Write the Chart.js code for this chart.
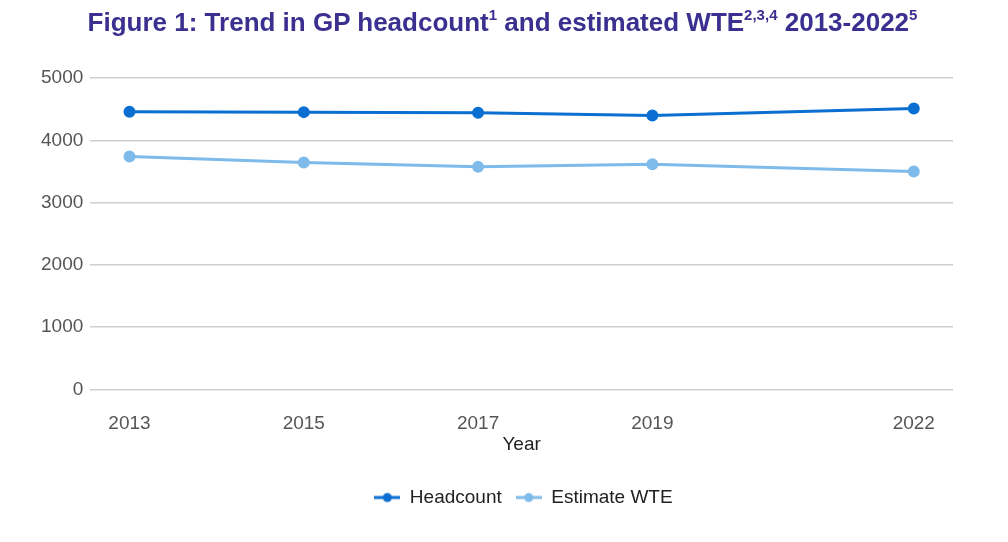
<!DOCTYPE html>
<html><head><meta charset="utf-8">
<script src="https://cdn.jsdelivr.net/npm/chart.js@4"></script>
<style>
html,body{margin:0;padding:0;background:#fff;}
#wrap{position:relative;width:1008px;height:542px;}
#title{position:absolute;left:0;top:7px;width:1005px;text-align:center;font:bold 26px/30px "Liberation Sans",Arial,sans-serif;color:#3b2f8f;margin:0;white-space:nowrap;}
#title sup{font-size:15px;line-height:0;vertical-align:top;position:relative;top:8px;}
canvas{position:absolute;left:0;top:0;}
</style></head>
<body><div id="wrap">
<canvas id="c" width="1008" height="542"></canvas>
<h1 id="title">Figure 1: Trend in GP headcount<sup>1</sup> and estimated WTE<sup>2,3,4</sup> 2013-2022<sup>5</sup></h1>
</div>
<script>
const years = [2013, 2015, 2017, 2019, 2022];
const headcount = [4457, 4452, 4441, 4399, 4511];
const estimateWTE = [3738, 3642, 3573, 3617, 3498];
const yTicks = [0, 1000, 2000, 3000, 4000, 5000];
const seriesNames = ['Headcount', 'Estimate WTE'];
const colors = ['#0a6fd0', '#7fbbea'];

function marker(color){
  const c = document.createElement('canvas');
  c.width = 26; c.height = 12;
  const x = c.getContext('2d');
  x.strokeStyle = color; x.lineWidth = 3;
  x.beginPath(); x.moveTo(0,6); x.lineTo(26,6); x.stroke();
  x.fillStyle = color; x.beginPath(); x.arc(13,6,4.5,0,Math.PI*2); x.fill();
  return c;
}
const shiftLegend = {
  id: 'shiftLegend',
  afterLayout(chart){
    if (chart.legend){ chart.legend.left += 30; chart.legend.right += 30; }
  }
};
const font = "'Liberation Sans', Arial, sans-serif";
new Chart(document.getElementById('c'), {
  type: 'line',
  plugins: [shiftLegend],
  data: {
    datasets: [
      {label: seriesNames[0], data: years.map((y,i)=>({x:y,y:headcount[i]})), borderColor: colors[0], backgroundColor: colors[0], borderWidth: 3, pointRadius: 4.5, pointHoverRadius: 4.5},
      {label: seriesNames[1], data: years.map((y,i)=>({x:y,y:estimateWTE[i]})), borderColor: colors[1], backgroundColor: colors[1], borderWidth: 3, pointRadius: 4.5, pointHoverRadius: 4.5}
    ]
  },
  options: {
    responsive: false, animation: false,
    layout: {padding: {top: 78, right: 55, left: 34, bottom: 25}},
    plugins: {
      title: {display: false},
      tooltip: {enabled: false},
      legend: {
        position: 'bottom',
        labels: {
          usePointStyle: true, pointStyleWidth: 26, boxHeight: 12, padding: 14,
          color: '#222', font: {family: font, size: 19},
          generateLabels(chart){
            return chart.data.datasets.map((d,i)=>({text: d.label, pointStyle: marker(colors[i]), fillStyle: colors[i], strokeStyle: colors[i], lineWidth: 0, datasetIndex: i, hidden: false, fontColor: '#222'}));
          }
        }
      }
    },
    scales: {
      x: {
        type: 'linear', min: 2012.55, max: 2022.45,
        afterBuildTicks(s){ s.ticks = years.map(v=>({value:v})); },
        grid: {display: false},
        border: {display: false},
        ticks: {color: '#555', font: {family: font, size: 19}, padding: 15, callback: v => String(v)},
        title: {display: true, text: 'Year', color: '#222', font: {family: font, size: 19}, padding: {top: -17, bottom: 18}}
      },
      y: {
        min: 0, max: 5000,
        afterBuildTicks(s){ s.ticks = yTicks.map(v=>({value:v})); },
        grid: {color: '#cfcfcf', lineWidth: 1.5, drawTicks: false},
        border: {display: false},
        ticks: {color: '#555', font: {family: font, size: 19}, padding: 7, callback: v => String(v)}
      }
    }
  }
});
</script>
</body></html>
